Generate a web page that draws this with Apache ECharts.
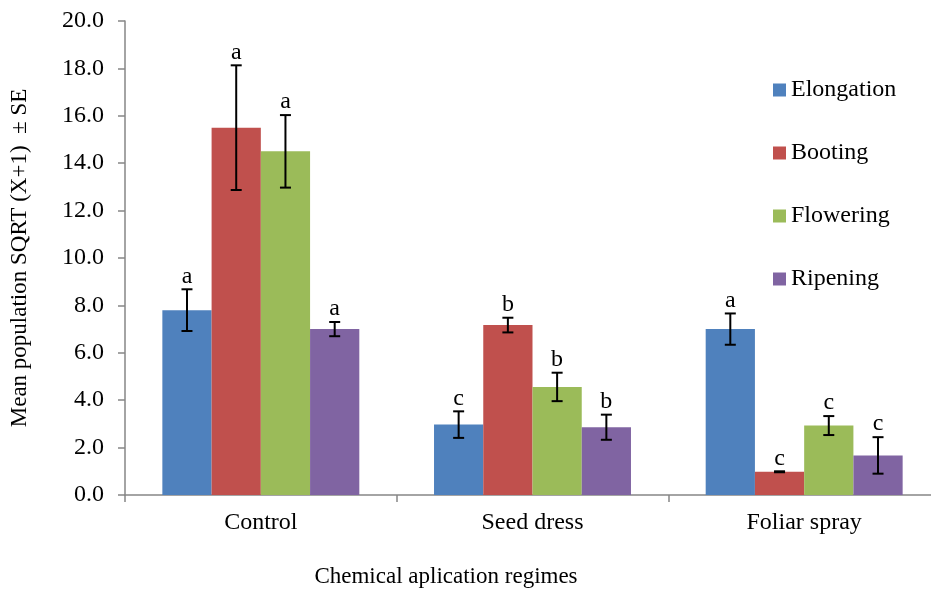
<!DOCTYPE html>
<html>
<head>
<meta charset="utf-8">
<script src="https://cdn.jsdelivr.net/npm/echarts@6/dist/echarts.min.js"></script>
<style>
html,body{margin:0;padding:0;background:#fff;}
#chart{width:931px;height:589px;}
</style>
</head>
<body>
<div id="chart"></div>
<script>
// ---- data ----
var categories = ['Control', 'Seed dress', 'Foliar spray'];
var stages = ['Elongation', 'Booting', 'Flowering', 'Ripening'];
var elongation = [7.8, 2.97, 7.0];
var booting    = [15.5, 7.17, 0.98];
var flowering  = [14.5, 4.56, 2.93];
var ripening   = [7.0, 2.86, 1.67];
var seElongation = [0.88, 0.56, 0.66];
var seBooting    = [2.63, 0.31, 0.02];
var seFlowering  = [1.53, 0.6, 0.4];
var seRipening   = [0.3, 0.53, 0.77];
var lettersElongation = ['a', 'c', 'a'];
var lettersBooting    = ['a', 'b', 'c'];
var lettersFlowering  = ['a', 'b', 'c'];
var lettersRipening   = ['a', 'b', 'c'];
var yTicks = ['0.0','2.0','4.0','6.0','8.0','10.0','12.0','14.0','16.0','18.0','20.0'];
var xAxisTitle = 'Chemical aplication regimes';
var yAxisTitle = 'Mean population SQRT (X+1)  \u00b1 SE';

var values = [elongation, booting, flowering, ripening];
var ses = [seElongation, seBooting, seFlowering, seRipening];
var letters = [lettersElongation, lettersBooting, lettersFlowering, lettersRipening];
var colors = ['#4F81BD', '#C0504D', '#9BBB59', '#8064A2'];
var FONT = 'Liberation Serif';
var CAT_GAP = 0.275;

var errData = [];
for (var s = 0; s < 4; s++) {
  for (var c = 0; c < categories.length; c++) {
    errData.push([c, s, values[s][c], ses[s][c]]);
  }
}

var series = stages.map(function (name, i) {
  return {
    name: name,
    type: 'bar',
    data: values[i],
    barGap: '0%',
    barCategoryGap: (CAT_GAP * 100) + '%',
    itemStyle: { color: colors[i] },
    z: 2
  };
});

series.push({
  type: 'custom',
  data: errData,
  z: 5,
  silent: true,
  renderItem: function (params, api) {
    var c = api.value(0), s = api.value(1), v = api.value(2), se = api.value(3);
    var band = api.size([1, 0])[0];
    var bw = band * (1 - CAT_GAP) / 4;
    var cx = api.coord([c, 0])[0] + (s - 1.5) * bw;
    var yTop = api.coord([c, v + se])[1];
    var yBot = api.coord([c, v - se])[1];
    var half = 5.5;
    var st = { stroke: '#000', lineWidth: 2 };
    return {
      type: 'group',
      children: [
        { type: 'line', shape: { x1: cx, y1: yTop, x2: cx, y2: yBot }, style: st },
        { type: 'line', shape: { x1: cx - half, y1: yTop, x2: cx + half, y2: yTop }, style: st },
        { type: 'line', shape: { x1: cx - half, y1: yBot, x2: cx + half, y2: yBot }, style: st },
        { type: 'text', style: { text: letters[s][c], x: cx, y: yTop - 1, textAlign: 'center', textVerticalAlign: 'bottom', font: '24px "Liberation Serif"', fill: '#000' } }
      ]
    };
  }
});

var chart = echarts.init(document.getElementById('chart'));
chart.setOption({
  animation: false,
  textStyle: { fontFamily: FONT },
  grid: { left: 125, top: 21, width: 815, height: 474, containLabel: false, outerBoundsMode: 'none' },
  legend: {
    data: stages,
    orient: 'vertical',
    left: 768,
    top: 73,
    itemWidth: 13,
    itemHeight: 13,
    itemGap: 39,
    icon: 'rect',
    textStyle: { fontFamily: FONT, fontSize: 24, color: '#000', lineHeight: 24 }
  },
  graphic: [{
    type: 'text',
    left: 'center',
    style: { text: xAxisTitle, x: 446, y: 577, textAlign: 'center', textVerticalAlign: 'middle', font: '23px "Liberation Serif"', fill: '#000' },
    left: null
  }],
  xAxis: {
    type: 'category',
    data: categories,
    axisLine: { lineStyle: { color: '#868686', width: 1.5 } },
    axisTick: { show: true, length: 7, lineStyle: { color: '#868686', width: 1.5 } },
    axisLabel: { fontFamily: FONT, fontSize: 24, color: '#000', margin: 16 }
  },
  yAxis: {
    type: 'value',
    min: 0,
    max: 20,
    interval: 2,
    name: yAxisTitle,
    nameLocation: 'middle',
    nameGap: 94,
    nameTextStyle: { fontFamily: FONT, fontSize: 23, color: '#000' },
    axisLine: { show: true, lineStyle: { color: '#868686', width: 1.5 } },
    axisTick: { show: true, length: 7, lineStyle: { color: '#868686', width: 1.5 } },
    splitLine: { show: false },
    axisLabel: {
      fontFamily: FONT, fontSize: 24, color: '#000', margin: 21,
      formatter: function (val) { return yTicks[Math.round(val / 2)]; }
    }
  },
  series: series
});
</script>
</body>
</html>
